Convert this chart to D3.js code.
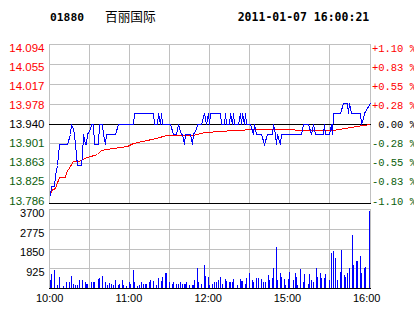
<!DOCTYPE html>
<html><head><meta charset="utf-8">
<script src="https://cdn.jsdelivr.net/npm/d3@7"></script>
<style>
html,body{margin:0;padding:0;background:#fff;}
svg{display:block;}
</style></head><body>
<svg id="c" width="414" height="314"></svg>
<script>
const stockCode = "01880";
const stockName = "百丽国际";
const timestamp = "2011-01-07 16:00:21";
const prevClose = 13.94;
const pctRange = 0.011;
const priceLabels = ["14.094","14.055","14.017","13.978","13.940","13.901","13.863","13.825","13.786"];
const pctLabels = ["+1.10 %","+0.83 %","+0.55 %","+0.28 %","0.00 %","-0.28 %","-0.55 %","-0.83 %","-1.10 %"];
const volLabels = ["3700","2775","1850","925"];
const volMax = 3700;
const timeLabels = ["10:00","11:00","12:00","15:00","16:00"];
const timeLabelMinutes = [0,60,120,180,240];
const totalMinutes = 240;

// price line: minute offsets from 10:00 (trading minutes) and prices
const priceMinutes = [1,2,4,5,6,7,8,14,16,17,18,19,20,21,24,25,26,27,28,29,31,32,33,34,37,38,40,41,42,43,50,52,63,64,78,79,81,82,83,84,85,91,93,95,97,99,100,101,102,106,107,108,110,111,114,116,118,119,120,121,128,129,131,132,133,135,136,137,138,139,142,143,144,145,146,147,148,151,153,154,155,159,161,163,167,168,169,170,171,173,174,189,190,194,196,198,199,205,206,207,210,211,212,213,218,220,223,224,225,226,233,234,235,236,238,240];
const prices = [13.80,13.82,13.82,13.84,13.86,13.88,13.90,13.90,13.92,13.94,13.93,13.92,13.90,13.86,13.86,13.88,13.92,13.90,13.90,13.92,13.93,13.94,13.94,13.90,13.90,13.94,13.94,13.92,13.90,13.92,13.92,13.94,13.94,13.96,13.96,13.94,13.94,13.96,13.94,13.96,13.94,13.94,13.92,13.92,13.94,13.92,13.92,13.90,13.92,13.92,13.90,13.92,13.93,13.94,13.94,13.96,13.94,13.96,13.94,13.96,13.96,13.94,13.94,13.96,13.94,13.94,13.96,13.94,13.96,13.94,13.94,13.96,13.94,13.96,13.94,13.96,13.94,13.94,13.92,13.94,13.92,13.92,13.90,13.92,13.92,13.94,13.92,13.90,13.92,13.90,13.92,13.92,13.94,13.94,13.92,13.94,13.92,13.92,13.94,13.92,13.92,13.94,13.92,13.96,13.96,13.98,13.98,13.96,13.98,13.96,13.96,13.94,13.95,13.96,13.97,13.98];

// average price line
const avgMinutes = [1,2,5,8,12,13,16,18,23,25,29,36,39,48,59,63,70,80,88,108,110,117,128,138,155,212,222,230,235,240];
const avgPrices = [13.800,13.812,13.816,13.836,13.836,13.846,13.858,13.868,13.868,13.871,13.875,13.881,13.889,13.893,13.897,13.903,13.907,13.912,13.917,13.918,13.920,13.923,13.926,13.928,13.929,13.928,13.932,13.935,13.938,13.940];

// volume bars
const volMinutes = [1,2,4,6,8,11,13,15,17,18,20,21,23,25,27,28,29,32,33,34,37,38,40,42,44,45,47,48,50,52,53,55,56,58,60,61,63,64,66,68,69,71,72,73,75,76,78,80,82,84,85,87,88,90,92,93,95,97,98,100,101,102,103,105,107,108,109,111,112,114,116,117,119,120,122,124,125,127,128,130,132,133,135,136,137,138,141,143,144,145,147,148,150,152,153,155,157,159,160,162,164,165,167,168,170,171,173,174,176,177,179,180,183,184,185,186,188,190,191,194,195,196,198,200,201,203,204,206,207,210,211,213,214,216,218,219,221,222,223,225,227,228,230,231,233,234,236,237,240];
const volumes = [360,650,850,160,520,115,290,290,550,195,160,160,360,390,260,210,210,290,260,260,405,485,550,290,160,245,210,160,360,160,210,360,130,115,260,210,850,290,115,160,260,210,210,210,260,360,325,130,455,325,520,700,700,290,195,260,210,210,260,210,210,210,260,160,160,160,360,940,290,210,1085,565,520,160,210,260,260,360,520,210,405,325,260,260,290,405,160,405,325,325,210,455,700,390,290,485,455,405,290,290,600,360,455,940,1930,360,700,520,405,160,405,730,360,700,520,160,890,290,650,210,650,360,260,940,520,700,455,455,650,360,1620,1735,1425,360,745,1765,615,520,700,925,2460,1055,1280,1280,1520,700,925,990,3600];

const svg = d3.select("#c");
const L = 49, R = 370, PT = 44, PB = 203, VT = 209, VB = 288;
const gridColor = "#c0c0c0", red = "#ff0000", green = "#0b5e0b", blue = "#0000ff";

const x = d3.scaleLinear().domain([0, totalMinutes]).range([L, R]);
const y = d3.scaleLinear().domain([prevClose*(1-pctRange), prevClose*(1+pctRange)]).range([PB, PT]);
const vy = d3.scaleLinear().domain([0, volMax]).range([VB, VT]);
const snapY = v => Math.round(v + 1e-6) + 0.5;
const px = m => Math.floor(x(m) + 1e-6) + 0.5;
const py = p => snapY(y(p));

const gridG = svg.append("g").attr("shape-rendering","crispEdges");
const vticks = d3.range(0, totalMinutes+1, 30);
const hRows = d3.range(0, 9).map(i => snapY(PT + (PB-PT)*i/8));
hRows.forEach((yy,i) => {
  gridG.append("line").attr("x1",L).attr("x2",R+1).attr("y1",yy).attr("y2",yy)
    .attr("stroke", gridColor);
});
vticks.forEach(m => {
  const xx = px(m);
  gridG.append("line").attr("x1",xx).attr("x2",xx).attr("y1",PT).attr("y2",PB).attr("stroke",gridColor);
  gridG.append("line").attr("x1",xx).attr("x2",xx).attr("y1",VT).attr("y2",VB).attr("stroke",gridColor);
});
const volTickVals = d3.range(0,5).map(i => volMax*i/4);
volTickVals.forEach(v => {
  const yy = snapY(vy(v));
  gridG.append("line").attr("x1",L).attr("x2",R+1).attr("y1",yy).attr("y2",yy)
    .attr("stroke", gridColor);
});
// black reference lines: previous close, bottom of price pane, bottom of volume pane
[py(prevClose), PB + 0.5, VB + 0.5].forEach(yy => {
  gridG.append("line").attr("x1",L).attr("x2",R+1).attr("y1",yy).attr("y2",yy).attr("stroke","#000");
});

// volume bars
svg.append("g").attr("shape-rendering","crispEdges").selectAll("rect")
  .data(volMinutes.map((m,i)=>({m, v: volumes[i]})))
  .join("rect")
  .attr("x", d => Math.min(Math.floor(x(d.m) + 1e-6), R-1))
  .attr("width", 1)
  .attr("y", d => Math.round(vy(d.v)))
  .attr("height", d => VB - Math.round(vy(d.v)))
  .attr("fill", blue);

// avg line and price line
const avgData = avgMinutes.map((m,i)=>[m, avgPrices[i]]);
const priceData = priceMinutes.map((m,i)=>[m, prices[i]]);
const line = d3.line().x(d => px(d[0])).y(d => py(d[1]));
svg.append("path").datum(avgData).attr("d", line).attr("fill","none")
  .attr("stroke", red).attr("stroke-width",1).attr("shape-rendering","crispEdges");
svg.append("path").datum(priceData).attr("d", line).attr("fill","none")
  .attr("stroke", blue).attr("stroke-width",1).attr("shape-rendering","crispEdges");

// labels
const labelY = d3.scaleLinear().domain([0,8]).range([51.5, 204.5]);
const labColor = i => i < 4 ? red : (i === 4 ? "#000" : green);
svg.append("g").selectAll("text").data(priceLabels).join("text")
  .attr("x", 44.5).attr("y", (d,i)=>labelY(i)).attr("text-anchor","end")
  .attr("font-family","'Liberation Sans', Arial, sans-serif").attr("font-size","11.5px")
  .attr("fill",(d,i)=>labColor(i)).text(d=>d);
svg.append("g").selectAll("text").data(pctLabels).join("text")
  .attr("x", 416).attr("y", (d,i)=>labelY(i)).attr("text-anchor","end")
  .attr("font-family","'Liberation Mono', 'Courier New', monospace").attr("font-size","10.5px")
  .attr("fill",(d,i)=>labColor(i)).text(d=>d);

const volLabelY = d3.scaleLinear().domain([0,3]).range([217, 275.5]);
svg.append("g").selectAll("text").data(volLabels).join("text")
  .attr("x", 44.5).attr("y", (d,i)=>volLabelY(i)).attr("text-anchor","end")
  .attr("font-family","'Liberation Sans', Arial, sans-serif").attr("font-size","11px")
  .attr("fill","#000").text(d=>d);

const timeLabelX = d3.scaleLinear().domain([0,totalMinutes]).range([49.7, 366.7]);
svg.append("g").selectAll("text").data(timeLabels).join("text")
  .attr("x", (d,i)=>timeLabelX(timeLabelMinutes[i])).attr("y", 302).attr("text-anchor","middle")
  .attr("font-family","'Liberation Sans', Arial, sans-serif").attr("font-size","11px")
  .attr("fill","#000").text(d=>d);

// title
svg.append("text").attr("x",50).attr("y",21)
  .attr("font-family","'DejaVu Sans Mono', monospace").attr("font-weight","bold").attr("font-size","11.3px")
  .attr("fill","#000").text(stockCode);
svg.append("text").attr("x",105).attr("y",20.5)
  .attr("font-family","'Noto Sans CJK SC', sans-serif").attr("font-size","12.7px")
  .attr("fill","#000").text(stockName);
svg.append("text").attr("x",237.7).attr("y",21)
  .attr("font-family","'DejaVu Sans Mono', monospace").attr("font-weight","bold").attr("font-size","11.5px")
  .attr("fill","#000").text(timestamp);
</script>
</body></html>
